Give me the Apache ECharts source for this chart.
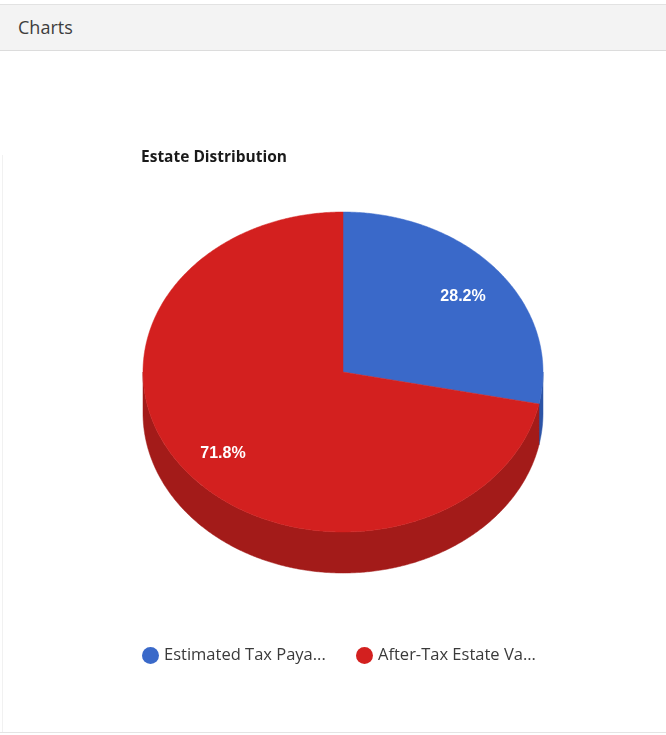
<!DOCTYPE html>
<html>
<head>
<meta charset="utf-8">
<title>Charts</title>
<script src="https://cdn.jsdelivr.net/npm/echarts@6/dist/echarts.min.js"></script>
<style>
  html, body { margin: 0; padding: 0; background: #fff; }
  body { width: 666px; height: 735px; position: relative; overflow: hidden; font-family: "Open Sans", "DejaVu Sans", sans-serif; }
  .panel-heading {
    position: absolute; left: 0; top: 4px; width: 666px; height: 45px;
    background: #f3f3f3; border-top: 1px solid #e2e2e2; border-bottom: 1px solid #dcdcdc;
    box-sizing: content-box;
  }
  .panel-heading span {
    position: absolute; left: 18px; top: 10px; font-size: 18px; color: #3d3d3d;
  }
  .panel-foot { position: absolute; left: 0; top: 732px; width: 666px; height: 0; border-top: 1px solid #e4e4e4; }
  .panel-side { position: absolute; left: 2px; top: 155px; width: 0; height: 577px; border-left: 1px solid #f1f1f1; }
  #chart { position: absolute; left: 0; top: 0; width: 666px; height: 735px; }
</style>
</head>
<body>
<div class="panel-heading"><span>Charts</span></div>
<div class="panel-side"></div>
<div class="panel-foot"></div>
<div id="chart"></div>
<script>
// Slice names and their values (share of the estate, percent)
var categories = ['Estimated Tax Payable', 'After-Tax Estate Value'];
var legendLabels = ['Estimated Tax Paya...', 'After-Tax Estate Va...'];
var values = [28.2, 71.8];
var topColors = ['#3a69c9', '#d3201f'];
var sideColors = ['#2c54a6', '#a31b19'];

// Geometry of the tilted pie
var pie = { cx: 343, cy: 372, rx: 200, ry: 160, depth: 41, labelF: 0.775, labelDy: 3 };

var total = values.reduce(function (a, b) { return a + b; }, 0);

function pointAt(deg, dy) {
  var r = deg * Math.PI / 180;
  return [pie.cx + pie.rx * Math.cos(r), pie.cy + (dy || 0) + pie.ry * Math.sin(r)];
}

function arcPoints(a0, a1, dy) {
  var pts = [];
  var n = Math.max(2, Math.ceil(Math.abs(a1 - a0) / 0.5));
  for (var k = 0; k <= n; k++) pts.push(pointAt(a0 + (a1 - a0) * k / n, dy));
  return pts;
}

// Part of a slice's rim that faces the viewer (screen angles 0..180, clockwise from 3 o'clock)
function frontRange(a0, a1) {
  var out = [];
  [-360, 0, 360].forEach(function (off) {
    var s = Math.max(a0, off), e = Math.min(a1, off + 180);
    if (e > s) out.push([s, e]);
  });
  return out;
}

function makeRender(idx) {
  return function (params, api) {
    var before = 0;
    for (var j = 0; j < idx; j++) before += values[j];
    var v = api.value(0);
    var a0 = -90 + 360 * before / total;
    var a1 = a0 + 360 * v / total;
    var children = [];

    frontRange(a0, a1).forEach(function (rg) {
      var topEdge = arcPoints(rg[0], rg[1], 0);
      var bottomEdge = arcPoints(rg[1], rg[0], pie.depth);
      children.push({
        type: 'polygon', z2: 1,
        shape: { points: topEdge.concat(bottomEdge) },
        style: { fill: sideColors[idx], stroke: sideColors[idx], lineWidth: 0.5 }
      });
    });

    var face = [[pie.cx, pie.cy]].concat(arcPoints(a0, a1, 0));
    children.push({
      type: 'polygon', z2: 10,
      shape: { points: face },
      style: { fill: topColors[idx], stroke: topColors[idx], lineWidth: 0.5 }
    });

    var mid = (a0 + a1) / 2 * Math.PI / 180;
    var pct = (100 * v / total).toFixed(1) + '%';
    children.push({
      type: 'text', z2: 20,
      x: pie.cx + pie.labelF * pie.rx * Math.cos(mid),
      y: pie.cy + pie.labelDy + pie.labelF * pie.ry * Math.sin(mid),
      style: {
        text: pct, fill: '#ffffff',
        font: 'bold 16px "Liberation Sans", Arial, sans-serif',
        textAlign: 'center', textVerticalAlign: 'middle',
        align: 'center', verticalAlign: 'middle'
      }
    });
    return { type: 'group', children: children };
  };
}

var chart = echarts.init(document.getElementById('chart'), null, { renderer: 'canvas' });

var series = categories.map(function (name, i) {
  return {
    type: 'custom',
    name: name,
    coordinateSystem: 'none',
    data: [values[i]],
    itemStyle: { color: topColors[i] },
    renderItem: makeRender(i),
    silent: true,
    animation: false
  };
});

// Long names are shown shortened in the legend
function shortName(name) {
  return legendLabels[categories.indexOf(name)];
}

var legendText = {
  fontFamily: '"Open Sans", "DejaVu Sans", sans-serif',
  fontSize: 16.5, color: '#3a3a3a'
};

chart.setOption({
  backgroundColor: 'transparent',
  animation: false,
  title: {
    text: 'Estate Distribution',
    left: 136, top: 145,
    textStyle: { fontFamily: '"Open Sans", "DejaVu Sans", sans-serif', fontSize: 15.5, fontWeight: 'bold', color: '#1a1a1a' }
  },
  legend: [
    { data: [categories[0]], left: 137, top: 642, icon: 'circle', itemWidth: 17, itemHeight: 17, itemGap: 0, formatter: shortName, textStyle: legendText, selectedMode: false },
    { data: [categories[1]], left: 351, top: 642, icon: 'circle', itemWidth: 17, itemHeight: 17, itemGap: 0, formatter: shortName, textStyle: legendText, selectedMode: false }
  ],
  series: series
});
</script>
</body>
</html>
